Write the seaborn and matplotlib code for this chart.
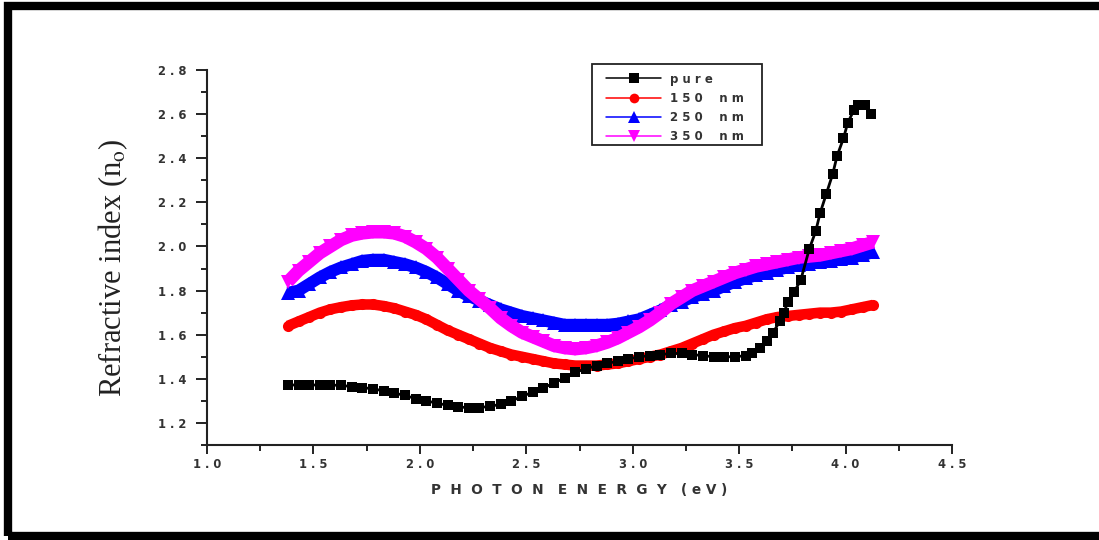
import matplotlib
matplotlib.use("Agg")
import matplotlib.pyplot as plt
from matplotlib.lines import Line2D
from matplotlib.patches import Rectangle
from matplotlib.ticker import MultipleLocator, FuncFormatter
import pandas as pd
import seaborn as sns

# ---- data: refractive index vs photon energy ----
energy = [1.38, 1.43, 1.48, 1.53, 1.58, 1.63, 1.68, 1.73, 1.78, 1.83,
          1.88, 1.93, 1.98, 2.03, 2.08, 2.13, 2.18, 2.23, 2.28, 2.33,
          2.38, 2.43, 2.48, 2.53, 2.58, 2.63, 2.68, 2.73, 2.78, 2.83,
          2.88, 2.93, 2.98, 3.03, 3.08, 3.13, 3.18, 3.23, 3.28, 3.33,
          3.38, 3.43, 3.48, 3.53, 3.58, 3.63, 3.68, 3.73, 3.78, 3.83,
          3.88, 3.93, 3.98, 4.03, 4.08, 4.13]

n_150 = [1.640, 1.660, 1.680, 1.700, 1.715, 1.725, 1.733, 1.737, 1.737, 1.730,
         1.720, 1.705, 1.690, 1.670, 1.645, 1.620, 1.600, 1.580, 1.560, 1.540,
         1.525, 1.510, 1.500, 1.490, 1.480, 1.470, 1.465, 1.460, 1.460, 1.460,
         1.465, 1.470, 1.480, 1.490, 1.500, 1.510, 1.525, 1.540, 1.560, 1.580,
         1.600, 1.615, 1.630, 1.640, 1.655, 1.670, 1.680, 1.685, 1.690, 1.695,
         1.700, 1.700, 1.705, 1.715, 1.725, 1.735]

n_250 = [1.790, 1.800, 1.830, 1.860, 1.885, 1.905, 1.920, 1.935, 1.940, 1.940,
         1.930, 1.920, 1.905, 1.885, 1.860, 1.830, 1.800, 1.775, 1.755, 1.735,
         1.715, 1.700, 1.685, 1.675, 1.665, 1.655, 1.645, 1.645, 1.645, 1.645,
         1.645, 1.650, 1.660, 1.670, 1.690, 1.710, 1.735, 1.750, 1.770, 1.785,
         1.800, 1.820, 1.840, 1.855, 1.870, 1.880, 1.895, 1.905, 1.915, 1.920,
         1.930, 1.935, 1.945, 1.950, 1.960, 1.975]

n_350 = [1.840, 1.890, 1.930, 1.970, 2.000, 2.030, 2.050, 2.060, 2.065, 2.065,
         2.060, 2.045, 2.020, 1.990, 1.950, 1.900, 1.850, 1.800, 1.760, 1.720,
         1.675, 1.640, 1.610, 1.590, 1.570, 1.550, 1.540, 1.535, 1.540, 1.550,
         1.565, 1.585, 1.610, 1.635, 1.665, 1.700, 1.740, 1.770, 1.800, 1.820,
         1.840, 1.860, 1.880, 1.895, 1.910, 1.920, 1.930, 1.940, 1.950, 1.955,
         1.960, 1.970, 1.980, 1.990, 2.005, 2.020]

energy_pure = [1.38, 1.43, 1.48, 1.53, 1.58, 1.63, 1.68, 1.73, 1.78, 1.83,
               1.88, 1.93, 1.98, 2.03, 2.08, 2.13, 2.18, 2.23, 2.28, 2.33,
               2.38, 2.43, 2.48, 2.53, 2.58, 2.63, 2.68, 2.73, 2.78, 2.83,
               2.88, 2.93, 2.98, 3.03, 3.08, 3.13, 3.18, 3.23, 3.28, 3.33,
               3.38, 3.43, 3.48, 3.53, 3.56, 3.60, 3.63, 3.66, 3.69, 3.71,
               3.73, 3.76, 3.79, 3.83, 3.86, 3.88, 3.91, 3.94, 3.96, 3.99,
               4.01, 4.04, 4.06, 4.09, 4.12]

n_pure = [1.372, 1.372, 1.372, 1.372, 1.372, 1.370, 1.365, 1.360, 1.355, 1.345,
          1.335, 1.325, 1.310, 1.300, 1.290, 1.280, 1.272, 1.270, 1.270, 1.275,
          1.285, 1.300, 1.320, 1.340, 1.360, 1.380, 1.405, 1.430, 1.445, 1.460,
          1.470, 1.480, 1.490, 1.500, 1.505, 1.510, 1.515, 1.515, 1.510, 1.505,
          1.500, 1.500, 1.500, 1.505, 1.515, 1.540, 1.570, 1.610, 1.660, 1.700,
          1.750, 1.795, 1.850, 1.990, 2.070, 2.150, 2.240, 2.330, 2.410, 2.490,
          2.560, 2.620, 2.640, 2.640, 2.600]

labels = ["pure", "150 nm", "250 nm", "350 nm"]
colors = ["#000000", "#ff0000", "#0000ff", "#ff00ff"]
markers = ["s", "o", "^", "v"]

x_ticks = [1.0, 1.5, 2.0, 2.5, 3.0, 3.5, 4.0, 4.5]
y_ticks = [1.2, 1.4, 1.6, 1.8, 2.0, 2.2, 2.4, 2.6, 2.8]

sns.set_style("ticks")
plt.rcParams["font.family"] = ["DejaVu Sans"]
plt.rcParams["mathtext.fontset"] = "stix"

W, H = 1099, 540
fig = plt.figure(figsize=(W / 100, H / 100), dpi=100)
ax = fig.add_axes([207 / W, 95 / H, 745 / W, 375 / H])


def spaced(text, sep=" ", gap=4):
    """Letter-spaced text: letters split by `sep`, words by a wider gap."""
    return (" " * gap).join(sep.join(word) for word in text.split(" "))


# thick coloured bands for the doped films, then the pure film on top
band_specs = [
    (n_150, colors[1], markers[1], 8.0, 7.6),
    (n_250, colors[2], markers[2], 9.5, 8.6),
    (n_350, colors[3], markers[3], 9.5, 9.2),
]
for values, col, mk, ms, lw in band_specs:
    df = pd.DataFrame({"E": energy, "n": values})
    sns.lineplot(data=df, x="E", y="n", ax=ax, color=col, marker=mk,
                 markersize=ms, markeredgewidth=0, sort=False, legend=False)
    line = ax.lines[-1]
    line.set_linewidth(lw)
    line.set_solid_capstyle("butt")

df_pure = pd.DataFrame({"E": energy_pure, "n": n_pure})
sns.lineplot(data=df_pure, x="E", y="n", ax=ax, color=colors[0], marker="s",
             markersize=7.0, markeredgewidth=0, sort=False, legend=False)
ax.lines[-1].set_linewidth(2.0)

ax.set_xlim(1.0, 4.5)
ax.set_ylim(1.1, 2.8)
ax.set_xticks(x_ticks)
ax.set_yticks(y_ticks)
ax.xaxis.set_minor_locator(MultipleLocator(0.25))
ax.yaxis.set_minor_locator(MultipleLocator(0.1))
fmt = FuncFormatter(lambda v, _: " ".join(f"{v:.1f}"))
ax.xaxis.set_major_formatter(fmt)
ax.yaxis.set_major_formatter(fmt)

sns.despine(ax=ax)
for side in ("left", "bottom"):
    ax.spines[side].set_linewidth(1.5)
    ax.spines[side].set_color("#222222")
ax.tick_params(which="both", direction="out", width=1.4, color="#222222",
               labelsize=8.3, labelcolor="#333333")
ax.tick_params(axis="y", which="major", length=8, pad=7)
ax.tick_params(axis="y", which="minor", length=4.5)
ax.tick_params(axis="x", which="major", length=6.5, pad=3)
ax.tick_params(axis="x", which="minor", length=4.5)
for lab in ax.get_xticklabels() + ax.get_yticklabels():
    lab.set_fontweight("bold")

ax.set_xlabel(spaced("PHOTON ENERGY", sep="  ", gap=3) + "   " + spaced("(eV)"),
              fontsize=9.8, fontweight="bold", color="#333333")
ax.xaxis.set_label_coords(0.499, -0.10)
ax.set_ylabel("Refractive index (n$_{\\mathrm{o}}$)", fontsize=22,
              family="Liberation Serif", color="#222222")
ax.yaxis.set_label_coords(-0.103, 0.473)

# legend: thin lines with one marker each, inside a plain black box
handles = [
    Line2D([], [], color=c, marker=m, markersize=s, markeredgewidth=0, linewidth=1.1)
    for c, m, s in zip(colors, markers, [6.5, 7, 8.5, 8.5])
]
leg = ax.legend(handles, [spaced(t, gap=4) for t in labels],
                loc="upper left", bbox_to_anchor=(606 / W, 1 - 72.5 / H),
                bbox_transform=fig.transFigure, borderaxespad=0,
                numpoints=1, handlelength=4.7, handletextpad=0.7,
                fontsize=8.5, labelspacing=0.53, borderpad=0.0,
                frameon=False)
for t in leg.get_texts():
    t.set_color("#333333")
    t.set_fontweight("bold")
fig.patches.append(Rectangle((592 / W, 1 - 145 / H), 170 / W, 81 / H,
                             transform=fig.transFigure, fill=False,
                             edgecolor="#222222", linewidth=1.3, zorder=5))

# heavy outer frame around the whole figure
fig.patches.append(Rectangle((8 / W, 4 / H), (1103 - 8) / W, (535 - 5) / H,
                             transform=fig.transFigure, fill=False,
                             edgecolor="black", linewidth=6, clip_on=False))

fig.savefig("out.png", dpi=100, facecolor="white")
